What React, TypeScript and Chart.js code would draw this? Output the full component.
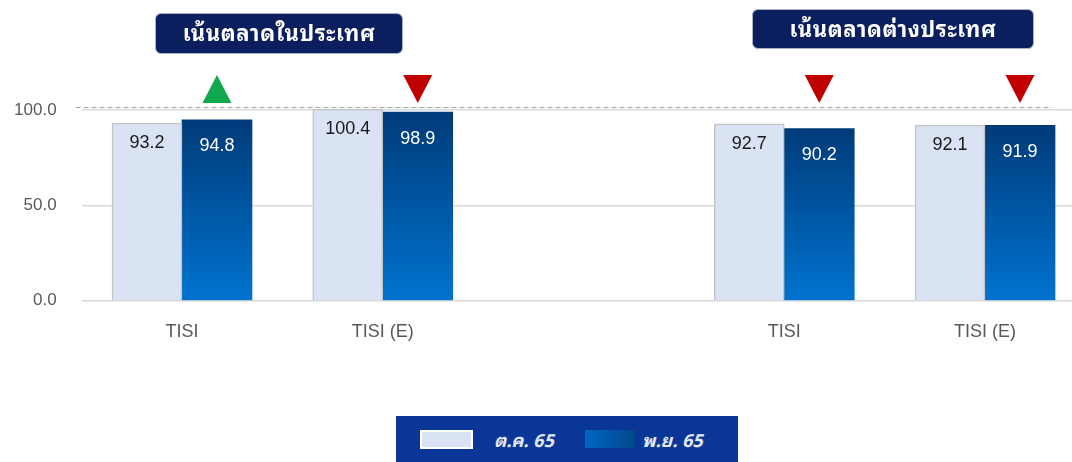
import React, { useEffect, useRef } from 'react';
import { Chart, registerables } from 'chart.js';

Chart.register(...registerables);

const CATEGORIES = ['TISI', 'TISI (E)', '', 'TISI', 'TISI (E)'];
const OCT_65: (number | null)[] = [93.2, 100.4, null, 92.7, 92.1];
const NOV_65: (number | null)[] = [94.8, 98.9, null, 90.2, 91.9];
const SERIES_NAMES = ['ต.ค. 65', 'พ.ย. 65'];
const Y_TICKS = [0, 50, 100];
const GROUP_TITLES = ['เน้นตลาดในประเทศ', 'เน้นตลาดต่างประเทศ'];
const REFERENCE_LEVEL = 101.7;
const MARKER_LEVEL = 111;

const FONT = '"Liberation Sans", Arial, Helvetica, sans-serif';
const THAI_FONT =
  '"Noto Sans Thai Looped", Tahoma, "Leelawadee UI", "Loma", "Garuda", "Norasi", "Noto Sans Thai", "DejaVu Sans", sans-serif';

const refLinePlugin = {
  id: 'refLine',
  beforeDatasetsDraw(chart: any) {
    const c = chart.ctx;
    const y = Math.round(chart.scales.y.getPixelForValue(REFERENCE_LEVEL)) + 0.5;
    c.save();
    c.strokeStyle = '#a6a6a6';
    c.lineWidth = 1;
    c.setLineDash([5, 3]);
    c.beginPath();
    c.moveTo(chart.chartArea.left - 6, y);
    c.lineTo(1052, y);
    c.stroke();
    c.restore();
  },
};

const valueLabelPlugin = {
  id: 'valueLabels',
  afterDatasetsDraw(chart: any) {
    const c = chart.ctx;
    c.save();
    c.font = `18px ${FONT}`;
    c.textAlign = 'center';
    c.textBaseline = 'middle';
    chart.data.datasets.forEach((ds: any, di: number) => {
      const meta = chart.getDatasetMeta(di);
      meta.data.forEach((bar: any, i: number) => {
        const v = ds.data[i];
        if (v == null) return;
        c.fillStyle = di === 0 ? '#1a1a1a' : '#ffffff';
        c.fillText(v.toFixed(1), bar.x, bar.y + (di === 0 ? 20 : 26.5));
      });
    });
    c.restore();
  },
};

const markerPlugin = {
  id: 'markers',
  afterDatasetsDraw(chart: any) {
    const c = chart.ctx;
    const meta = chart.getDatasetMeta(1);
    const yc = chart.scales.y.getPixelForValue(MARKER_LEVEL);
    const w = 29;
    const h = 28;
    c.save();
    meta.data.forEach((bar: any, i: number) => {
      const a = OCT_65[i];
      const b = NOV_65[i];
      if (a == null || b == null) return;
      const up = b > a;
      c.beginPath();
      if (up) {
        c.moveTo(bar.x, yc - h / 2);
        c.lineTo(bar.x + w / 2, yc + h / 2);
        c.lineTo(bar.x - w / 2, yc + h / 2);
      } else {
        c.moveTo(bar.x - w / 2, yc - h / 2);
        c.lineTo(bar.x + w / 2, yc - h / 2);
        c.lineTo(bar.x, yc + h / 2);
      }
      c.closePath();
      c.fillStyle = up ? '#0fa84c' : '#c00000';
      c.fill();
    });
    c.restore();
  },
};

function darkGradient(ctx: any) {
  const chart = ctx.chart;
  if (ctx.type !== 'data' || ctx.raw == null || !chart.chartArea || !chart.scales.y) return '#0058a8';
  const y = chart.scales.y;
  const top = y.getPixelForValue(ctx.raw);
  const bottom = y.getPixelForValue(0);
  const g = chart.ctx.createLinearGradient(0, top, 0, bottom);
  g.addColorStop(0, '#003b79');
  g.addColorStop(1, '#0073cf');
  return g;
}

export default function App() {
  const canvasRef = useRef<HTMLCanvasElement | null>(null);

  useEffect(() => {
    if (!canvasRef.current) return;
    const chart = new Chart(canvasRef.current, {
      type: 'bar',
      data: {
        labels: CATEGORIES,
        datasets: [
          {
            label: SERIES_NAMES[0],
            data: OCT_65,
            backgroundColor: '#dae3f3',
            borderColor: '#c4c4c4',
            borderWidth: 1.5,
            barThickness: 70,
          },
          {
            label: SERIES_NAMES[1],
            data: NOV_65,
            backgroundColor: darkGradient,
            borderWidth: 0,
            barThickness: 70,
          },
        ],
      },
      options: {
        animation: false,
        responsive: true,
        maintainAspectRatio: false,
        layout: { padding: { left: 0, right: 0, top: 52.8, bottom: 0 } },
        plugins: {
          legend: { display: false },
          tooltip: { enabled: false },
        },
        scales: {
          x: {
            grid: { display: false, drawTicks: false },
            border: { display: false },
            ticks: {
              color: '#595959',
              font: { family: FONT, size: 18 },
              padding: 21,
              autoSkip: false,
              maxRotation: 0,
            },
            afterFit: (scale: any) => {
              scale.height = 161.3;
            },
          },
          y: {
            min: 0,
            max: 130,
            grid: { color: '#d9d9d9', lineWidth: 1.5, drawTicks: false },
            border: { display: false },
            ticks: {
              stepSize: 50,
              includeBounds: false,
              color: '#595959',
              font: { family: FONT, size: 17 },
              padding: 25,
              callback: (v: any) => Number(v).toFixed(1),
            },
            afterBuildTicks: (scale: any) => {
              scale.ticks = Y_TICKS.map((value) => ({ value }));
            },
            afterFit: (scale: any) => {
              scale.width = 81.6;
            },
          },
        },
      },
      plugins: [refLinePlugin, valueLabelPlugin, markerPlugin],
    });
    return () => chart.destroy();
  }, []);

  const headerBase: React.CSSProperties = {
    position: 'absolute',
    background: '#0b1f5e',
    borderRadius: 6,
    border: '1px solid #aab3cc',
    boxSizing: 'border-box',
    color: '#ffffff',
    fontFamily: THAI_FONT,
    fontWeight: 'bold',
    fontSize: 22,
    letterSpacing: 0.6,
    display: 'flex',
    alignItems: 'center',
    justifyContent: 'center',
    lineHeight: 1,
    paddingBottom: 5,
    whiteSpace: 'nowrap',
  };

  const legendText: React.CSSProperties = {
    position: 'absolute',
    top: 0,
    height: 46,
    display: 'flex',
    alignItems: 'center',
    color: '#e3e8f6',
    fontFamily: THAI_FONT,
    fontWeight: 'bold',
    fontStyle: 'italic',
    fontSize: 18,
    whiteSpace: 'nowrap',
  };

  return (
    <div
      style={{
        position: 'fixed',
        left: 0,
        top: 0,
        width: 1072,
        height: 462,
        overflow: 'hidden',
        background: '#ffffff',
      }}
    >
      <div style={{ position: 'absolute', left: 0, top: 0, width: 1085.4, height: 462 }}>
        <canvas ref={canvasRef} />
      </div>
      <div style={{ ...headerBase, left: 155, top: 13, width: 248, height: 41 }}>{GROUP_TITLES[0]}</div>
      <div style={{ ...headerBase, left: 752, top: 9, width: 282, height: 40 }}>{GROUP_TITLES[1]}</div>
      <div
        style={{
          position: 'absolute',
          left: 396,
          top: 416,
          width: 342,
          height: 46,
          background: '#0a3797',
        }}
      >
        <div
          style={{
            position: 'absolute',
            left: 24,
            top: 14,
            width: 53,
            height: 19,
            background: '#dae3f3',
            border: '2px solid #ffffff',
            boxSizing: 'border-box',
          }}
        />
        <div style={{ ...legendText, left: 98 }}>{SERIES_NAMES[0]}</div>
        <div
          style={{
            position: 'absolute',
            left: 189,
            top: 14,
            width: 50,
            height: 18,
            background: 'linear-gradient(to right, #0068c4, #00478c)',
          }}
        />
        <div style={{ ...legendText, left: 246 }}>{SERIES_NAMES[1]}</div>
      </div>
    </div>
  );
}
